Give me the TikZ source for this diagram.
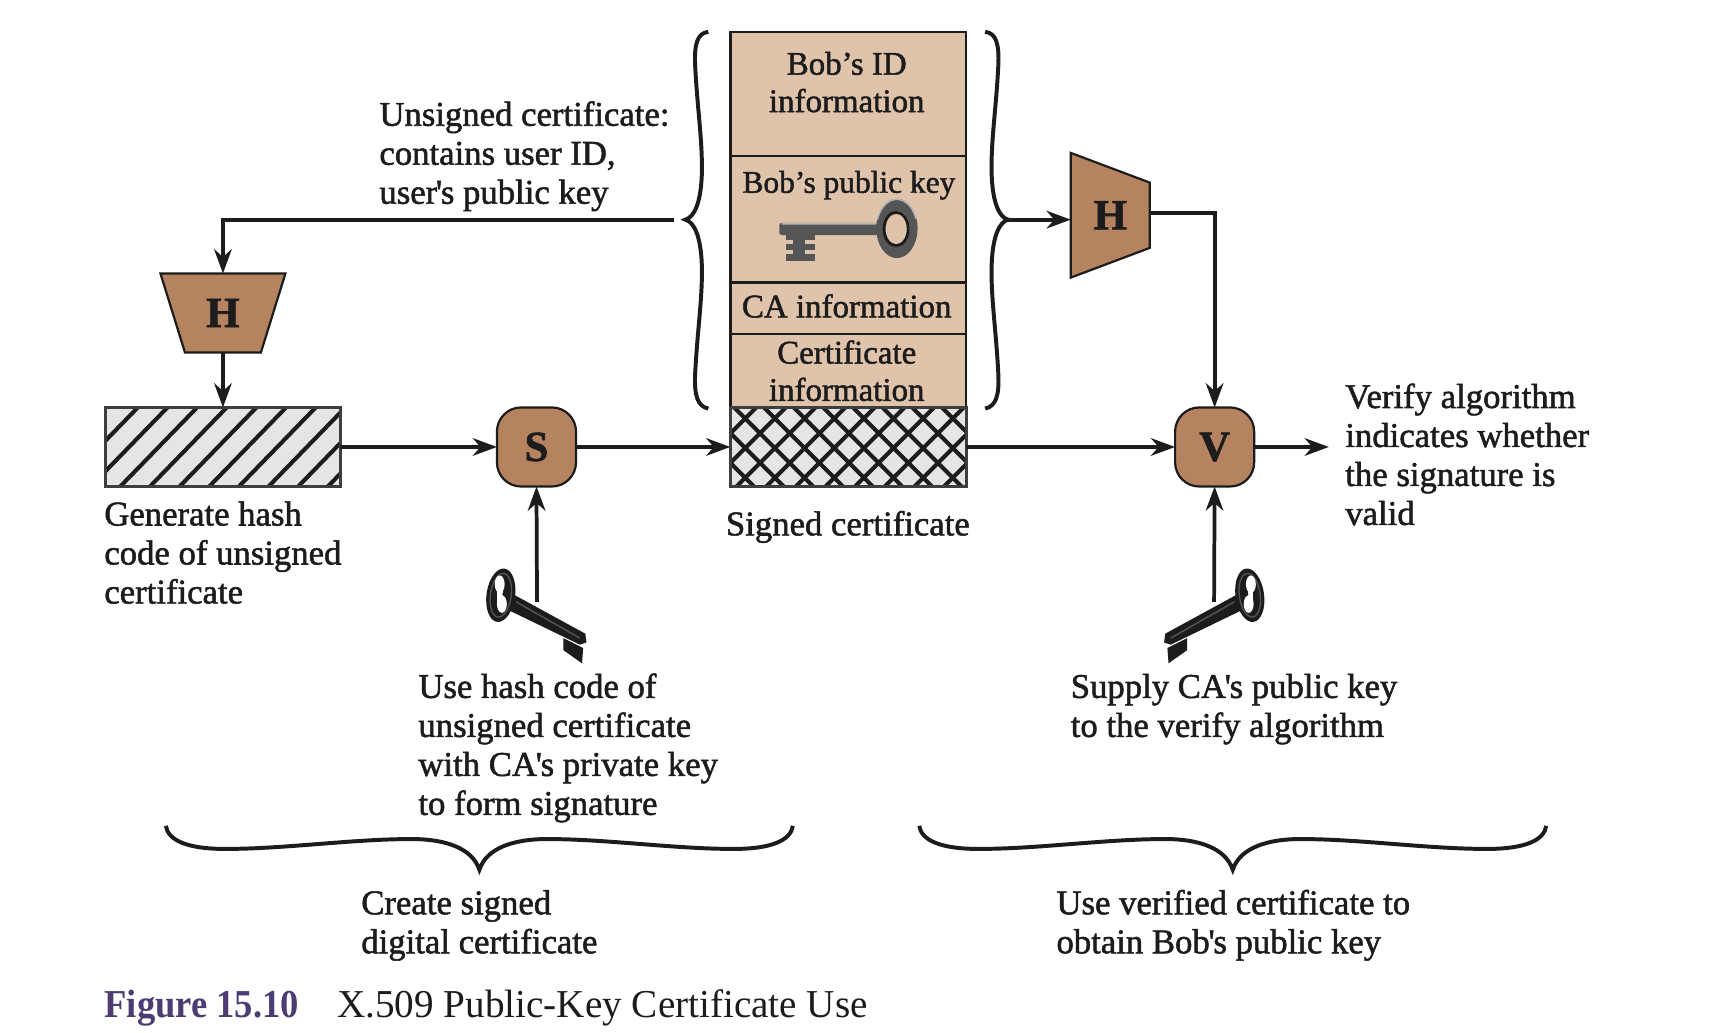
\documentclass[tikz,border=0pt]{standalone}
\usepackage{fontspec}
\usetikzlibrary{arrows.meta,shapes.geometric}
\newfontfamily\lab[RawFeature={embolden=1.5}]{Liberation Serif}
\newfontfamily\capreg[FakeStretch=0.99]{Liberation Serif}
\newfontfamily\capbold[BoldFeatures={FakeStretch=0.925}]{Liberation Serif}
\newcommand\lft[1]{\begin{tabular}[t]{@{}l@{}}#1\end{tabular}}
\newcommand\ctr[1]{\begin{tabular}[t]{@{}c@{}}#1\end{tabular}}
\newcommand\apo{\kern-1.2pt'\kern-1.2pt}
\definecolor{tanbox}{HTML}{DFC4AB}
\definecolor{brownbox}{HTML}{B5835F}
\definecolor{ink}{HTML}{1C1C1C}
\definecolor{hatchbg}{HTML}{E5E5E4}
\definecolor{capcol}{HTML}{4B3D74}
\definecolor{keygray}{HTML}{555555}
\definecolor{keylight}{HTML}{B8B8B8}
\newcommand\darkkey{%
  % bit
  \fill[ink] (513,581) -- (531,590) -- (530,604) -- (513,592) -- cycle;
  % shaft
  \fill[ink] (467,541) -- (533,577) -- (534,585) -- (528,587) -- (464,556) -- cycle;
  \draw[keygray,line width=1.3pt] (470,548) -- (528,581);
  % bow
  \fill[ink,rotate around={-8:(456,542)}] (456,542) ellipse [x radius=13,y radius=24.5];
  \draw[keygray,line width=1.2pt,rotate around={-8:(456,542)}] (456,542) ellipse [x radius=9.5,y radius=20];
  \fill[white] (455,532) ellipse [x radius=4.5,y radius=8];
  \fill[white] (457,550) ellipse [x radius=4.5,y radius=8];
  \fill[white] (453,532) rectangle (458,550);
  \fill[ink] (462,537) -- (457,541) -- (462,545) -- cycle;
}
\newcommand\vbrace{%
  \draw[bracestyle] (645,29) .. controls (635,30) and (632,40) .. (633,60)
    .. controls (635,100) and (640,130) .. (639,160)
    .. controls (638,185) and (632,198) .. (624,200)
    .. controls (632,202) and (638,215) .. (639,240)
    .. controls (640,270) and (635,300) .. (633,340)
    .. controls (632,360) and (635,370) .. (645,372);
}
\newcommand\hbrace{%
  \draw[bracestyle] (151,752) .. controls (153,765) and (170,773) .. (205,773)
    .. controls (260,773) and (320,764) .. (375,764)
    .. controls (405,764) and (430,772) .. (436.5,792)
    .. controls (443,772) and (468,764) .. (498,764)
    .. controls (553,764) and (613,773) .. (668,773)
    .. controls (703,773) and (720,765) .. (722,752);
}
\tikzset{
  conn/.style={ink,line width=3.4pt,-{Stealth[length=22pt,width=16pt,inset=7pt]}},
  bracestyle/.style={ink,line width=3.6pt},
  txt/.style={inner sep=0pt,outer sep=0pt,text=ink,font=\lab\fontsize{31.6}{35.5}\selectfont},
  ctxt/.style={txt,font=\lab\fontsize{30}{34}\selectfont},
  certbox/.style={draw=ink,line width=2.4pt,fill=tanbox,minimum width=214.5pt,inner sep=0pt,outer sep=0pt},
  opbox/.style={draw=ink,line width=2pt,fill=brownbox,rounded corners=22pt,minimum width=72pt,minimum height=72pt,inner sep=0pt,outer sep=0pt,text=ink,font=\lab\bfseries\fontsize{39}{39}\selectfont},
  sigbox/.style={draw=ink!85,line width=2.8pt,minimum width=214pt,minimum height=72pt,inner sep=0pt,outer sep=0pt},
  hshape/.style={draw=ink,line width=2pt,fill=brownbox,inner sep=0pt,outer sep=0pt,text=ink,font=\lab\bfseries\fontsize{39}{39}\selectfont},
  hatchline/.style={ink,line width=3.7pt}
}
\begin{document}
\begin{tikzpicture}[x=1pt,y=-1pt,line join=miter]
\useasboundingbox[fill=white] (0,0) rectangle (1568,940);

% certificate fields
\node[certbox,minimum height=113pt] (idf) at (772.5,85.5) {};
\node[certbox,minimum height=115pt] (pkf) at (772.5,199.5) {};
\node[certbox,minimum height=47pt] (caf) at (772.5,280.5) {};
\node[certbox,minimum height=67pt] (cif) at (772.5,337.5) {};
\node[ctxt,anchor=base] (idt) at (771,68) {\ctr{Bob’s ID\\information}};
\node[ctxt,anchor=base,font=\lab\fontsize{28.6}{34}\selectfont] (pkt) at (773,175.5) {\ctr{Bob’s public key}};
\node[ctxt,anchor=base] (cat) at (771,289) {\ctr{CA information}};
\node[ctxt,anchor=base] (cit) at (771,331) {\ctr{Certificate\\information}};

% key in the certificate
\fill[keygray] (722.5,214) rectangle (733,237.5);
\fill[keygray] (715.5,214) rectangle (742,218.7);
\fill[keygray] (715.5,221.8) rectangle (742,227.8);
\fill[keygray] (715.5,231) rectangle (742,237.5);
\fill[keygray,rounded corners=2pt] (709.7,203) rectangle (800,214);
\draw[keylight,line width=1.4pt] (712,203.8) -- (797,203.8) .. controls (799,203.8) and (799,202) .. (799,200);
\fill[keygray,even odd rule] (816.7,208) ellipse [x radius=18.8,y radius=27] (816.7,208) ellipse [x radius=11.5,y radius=16];
\draw[keylight,line width=1.2pt] (799,200) arc [start angle=198,end angle=340,x radius=18.5,y radius=26.7];
\draw[ink,line width=2.6pt] (816,208.5) ellipse [x radius=11,y radius=15.2];

% hatched box
\fill[hatchbg] (96,371) rectangle (310,443);
\begin{scope}
\clip (96,371) rectangle (310,443);
\foreach \k in {0,...,11} {\draw[hatchline] ({125.5+27*\k},371) -- ({55.5+27*\k},443);}
\end{scope}
\node[sigbox] (hcode) at (203,407) {};

% crosshatched box
\fill[hatchbg] (665,371) rectangle (880,443);
\begin{scope}
\clip (665,371) rectangle (880,443);
\foreach \k in {-3,...,9} {
  \draw[hatchline] ({668.6+27*\k},371) -- ({740.6+27*\k},443);
  \draw[hatchline] ({616.6+27*\k},443) -- ({688.6+27*\k},371);
}
\end{scope}
\node[sigbox,minimum width=215pt] (sig) at (772.5,407) {};

% operators
\node[opbox] (s) at (488.5,407) {S};
\node[opbox] (v) at (1106,407) {V};
\node[hshape,trapezium,trapezium left angle=69,trapezium right angle=69,trapezium stretches,minimum width=114pt,minimum height=72pt,shape border rotate=180] (hl) at (203,285) {H};
\node[hshape,trapezium,trapezium left angle=69,trapezium right angle=69,trapezium stretches,minimum width=114pt,minimum height=72pt,shape border rotate=270] (hr) at (1011,196) {H};

% braces
\vbrace
\begin{scope}[shift={(1542,0)},xscale=-1]\vbrace\end{scope}
\hbrace
\begin{scope}[shift={(686,0)}]\hbrace\end{scope}

% free ends
\coordinate (lfree) at (614,200);
\coordinate (rtip) at (918,200);
\coordinate (hrout) at (1047,194);
\coordinate (vout) at (1210,407);
\coordinate (skey) at (489,548);
\coordinate (vkey) at (1105.5,548);

% connectors
\draw[conn] (lfree) -| (hl.90);
\draw[conn] (hl.270) -- (hcode.north);
\draw[conn] (hcode.east) -- (s.west);
\draw[conn] (s.east) -- (sig.west);
\draw[conn] (sig.east) -- (v.west);
\draw[conn] (v.east) -- (vout);
\draw[conn] (rtip) -- (rtip -| hr.180);
\draw[conn] (hrout) -| (v.north);
\draw[conn] (skey) -- (s.south);
\draw[conn] (vkey) -- (v.south);

% dark keys
\darkkey
\begin{scope}[shift={(1594,0)},xscale=-1]\darkkey\end{scope}

% labels
\node[txt,anchor=base west] (unsigned) at (345.5,114.5) {\lft{Unsigned certificate:\\contains user ID,\\user\apo s public key}};
\node[txt,anchor=base west] (gen) at (95,478.5) {\lft{Generate hash\\code of unsigned\\certificate}};
\node[txt,anchor=base west] (use) at (381,635.5) {\lft{Use hash code of\\unsigned certificate\\with CA\apo s private key\\to form signature}};
\node[txt,anchor=base west] (supply) at (975,635.5) {\lft{Supply CA\apo s public key\\to the verify algorithm}};
\node[txt,anchor=base west] (verify) at (1225,371.5) {\lft{Verify algorithm\\indicates whether\\the signature is\\valid}};
\node[txt,anchor=base] (signed) at (772,487.5) {Signed certificate};
\node[txt,anchor=base west] (create) at (329,832.5) {\lft{Create signed\\digital certificate}};
\node[txt,anchor=base west] (obtain) at (962,832.5) {\lft{Use verified certificate to\\obtain Bob\apo s public key}};
\node[inner sep=0pt,anchor=base west,text=capcol,font=\capbold\bfseries\fontsize{36}{40}\selectfont] (fig) at (95,926.5) {Figure 15.10};
\node[inner sep=0pt,anchor=base west,text=ink,font=\capreg\fontsize{36}{40}\selectfont] (figt) at (307,926.5) {X.509 Public-Key Certificate Use};
\end{tikzpicture}
\end{document}
